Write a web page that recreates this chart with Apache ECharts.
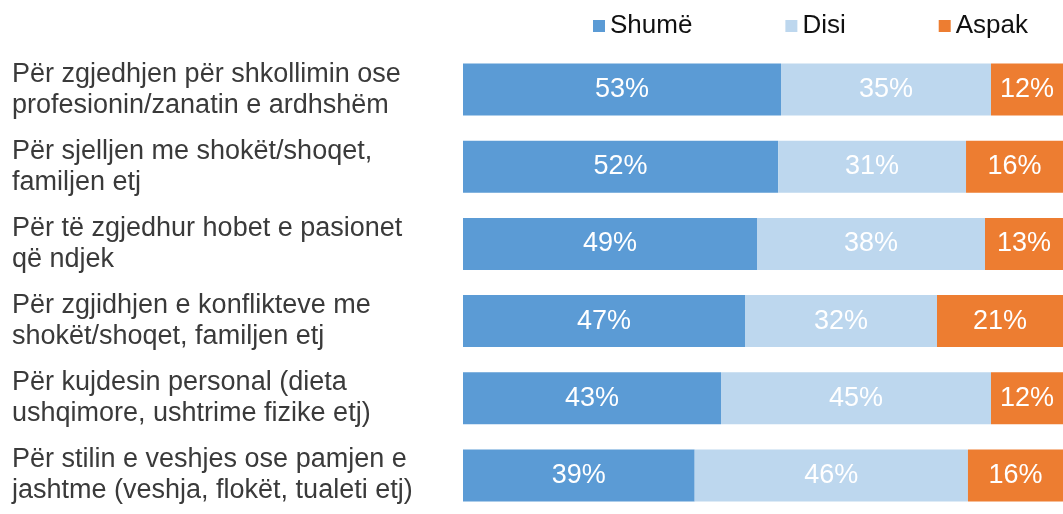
<!DOCTYPE html>
<html>
<head>
<meta charset="utf-8">
<script src="https://cdn.jsdelivr.net/npm/echarts@6/dist/echarts.min.js"></script>
<style>
  html, body { margin: 0; padding: 0; background: #fff; }
  #chart { width: 1063px; height: 514px; }
</style>
</head>
<body>
<div id="chart"></div>
<script>
var categories = [
    'Për zgjedhjen për shkollimin ose\nprofesionin/zanatin e ardhshëm',
    'Për sjelljen me shokët/shoqet,\nfamiljen etj',
    'Për të zgjedhur hobet e pasionet\nqë ndjek',
    'Për zgjidhjen e konflikteve me\nshokët/shoqet, familjen etj',
    'Për kujdesin personal (dieta\nushqimore, ushtrime fizike etj)',
    'Për stilin e veshjes ose pamjen e\njashtme (veshja, flokët, tualeti etj)'
];
var shume = [53, 52, 49, 47, 43, 39];
var disi = [35, 31, 38, 32, 45, 46];
var aspak = [12, 16, 13, 21, 12, 16];

var seriesNames = ['Shumë', 'Disi', 'Aspak'];
var colors = ['#5B9BD5', '#BDD7EE', '#ED7D31'];
var font = 'Liberation Sans, Arial, sans-serif';

// rounded labels don't always add up to 100, so bars use each row's share
var raw = [shume, disi, aspak];
function share(arr) {
    return arr.map(function (v, i) {
        return v / (shume[i] + disi[i] + aspak[i]) * 100;
    });
}

var myChart = echarts.init(document.getElementById('chart'));
var option = {
    animation: false,
    color: colors,
    textStyle: {fontFamily: font},
    legend: {
        left: 588,
        top: 8,
        itemWidth: 12,
        itemHeight: 12,
        itemGap: 93,
        icon: 'rect',
        textStyle: {fontSize: 26, color: '#111', fontFamily: font},
        data: seriesNames
    },
    grid: {left: 463, right: 0, top: 51, height: 466},
    xAxis: {type: 'value', min: 0, max: 100, show: false},
    yAxis: {
        type: 'category',
        inverse: true,
        data: categories,
        axisLine: {show: false},
        axisTick: {show: false},
        axisLabel: {
            align: 'left',
            margin: 451,
            fontSize: 27,
            lineHeight: 31,
            color: '#3a3a3a',
            fontFamily: font
        }
    },
    series: seriesNames.map(function (name, k) {
        return {
            name: name,
            type: 'bar',
            stack: 'all',
            barWidth: 52,
            data: share(raw[k]),
            label: {
                show: true,
                position: 'inside',
                color: '#fff',
                fontSize: 27,
                fontFamily: font,
                formatter: function (p) {
                    return raw[k][p.dataIndex] + '%';
                }
            }
        };
    })
};
myChart.setOption(option);
</script>
</body>
</html>
